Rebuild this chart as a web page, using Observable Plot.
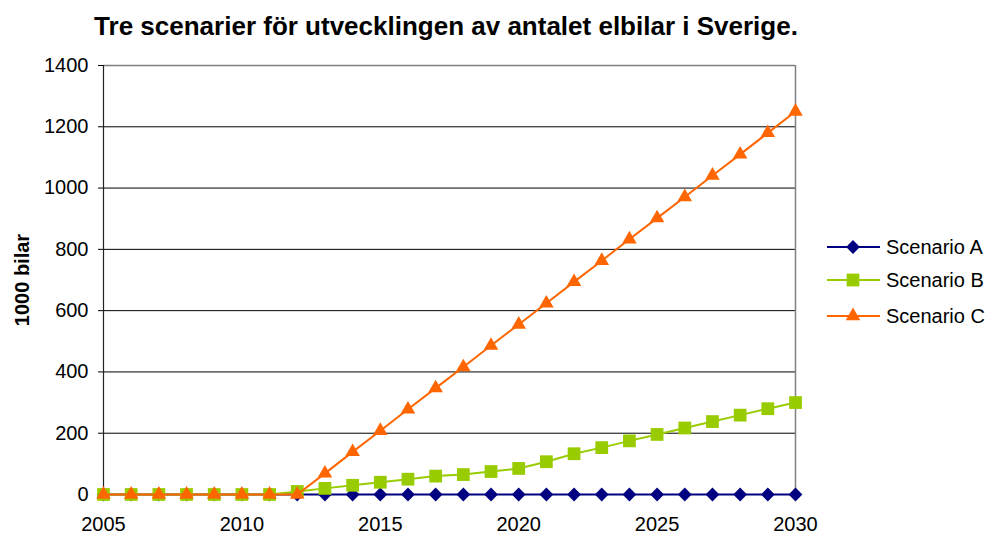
<!DOCTYPE html>
<html><head><meta charset="utf-8">
<script src="https://cdn.jsdelivr.net/npm/d3@7"></script>
<script src="https://cdn.jsdelivr.net/npm/@observablehq/plot@0.6"></script>
<style>
body{margin:0;background:#fff;font-family:"Liberation Sans",Arial,sans-serif;}
#wrap{position:relative;width:987px;height:534px;overflow:hidden;}
#title{position:absolute;left:0;top:0;width:892px;height:50px;text-align:center;font-weight:bold;font-size:26px;line-height:52px;color:#000;}
#chart{position:absolute;left:0;top:50px;}
#legend{position:absolute;left:826px;top:234px;}
.row{position:absolute;left:0;height:26px;display:flex;align-items:center;white-space:nowrap;font-size:20px;color:#000;}
.row svg{display:block;margin-right:6px;}
</style></head>
<body><div id="wrap"><div id="title"></div><div id="chart"></div><div id="legend"></div></div>
<script>
const titleText = "Tre scenarier för utvecklingen av antalet elbilar i Sverige.";
const yLabel = "1000 bilar";
const years = [2005,2006,2007,2008,2009,2010,2011,2012,2013,2014,2015,2016,2017,2018,2019,2020,2021,2022,2023,2024,2025,2026,2027,2028,2029,2030];
const scenarioA = [0,0,0,0,0,0,0,0,0,0,0,0,0,0,0,0,0,0,0,0,0,0,0,0,0,0];
const scenarioB = [0,0,0,0,0,0,0,10,20,30,40,50,60,65,75,85,107,133,153,175,196,217,238,259,280,300];
const scenarioC = [0,0,0,0,0,0,0,0,69,139,208,278,347,416,486,555,624,694,763,833,902,971,1041,1110,1180,1250];
const seriesNames = ["Scenario A","Scenario B","Scenario C"];
const seriesColors = ["#000080","#99CC00","#FF6600"];
const seriesSymbols = ["diamond2","square","triangle"];
const seriesR = [6.2,7.2,5.4];
const yTicks = [0,200,400,600,800,1000,1200,1400];
const xTicks = [2005,2010,2015,2020,2025,2030];

document.getElementById("title").textContent = titleText;

const allSeries = [scenarioA, scenarioB, scenarioC];
const data = allSeries.map((vals, i) => years.map((y, j) => ({year: y, value: vals[j], series: seriesNames[i]})));

const font = '"Liberation Sans", Arial, sans-serif';
const marks = [
  Plot.ruleY(yTicks.filter(t => t > 0 && t < 1400), {stroke: "#000", strokeWidth: 1}),
  Plot.ruleY([1400], {stroke: "#808080", strokeWidth: 1.5}),
  Plot.ruleX([2030], {stroke: "#808080", strokeWidth: 1.5}),
  Plot.axisY({ticks: yTicks, tickSize: 5, tickPadding: 10, tickFormat: d => String(d), label: null, fontSize: 20, stroke: "#000"}),
  Plot.axisY({ticks: [], tickSize: 0, label: yLabel, labelAnchor: "center", labelArrow: "none", labelOffset: 89, fontSize: 20, fontWeight: "bold"}),
  Plot.ruleX([2005], {stroke: "#222", strokeWidth: 1.2}),
  Plot.axisX({ticks: xTicks, tickSize: 0, tickPadding: 22, tickFormat: d => String(d), label: null, fontSize: 20})
];
data.forEach((d, i) => {
  marks.push(Plot.line(d, {x: "year", y: "value", stroke: seriesColors[i], strokeWidth: 2}));
  marks.push(Plot.dot(d, {x: "year", y: "value", symbol: seriesSymbols[i], fill: seriesColors[i], stroke: "none", r: seriesR[i]}));
});

const chart = Plot.plot({
  width: 987, height: 484,
  marginTop: 15, marginBottom: 40, marginLeft: 103, marginRight: 192,
  style: {fontFamily: font, fontSize: "20px", color: "#000", background: "#fff", overflow: "visible"},
  x: {domain: [2005, 2030]},
  y: {domain: [0, 1400]},
  marks
});
document.getElementById("chart").appendChild(chart);

// legend
const legend = document.getElementById("legend");
const rowTops = [0, 33, 69];
seriesNames.forEach((name, i) => {
  const row = document.createElement("div");
  row.className = "row";
  row.style.top = rowTops[i] + "px";
  const svg = d3.create("svg").attr("width", 54).attr("height", 26);
  svg.append("line").attr("x1", 1).attr("x2", 54).attr("y1", 13).attr("y2", 13).attr("stroke", seriesColors[i]).attr("stroke-width", 2);
  const sym = {diamond2: d3.symbolDiamond2, square: d3.symbolSquare, triangle: d3.symbolTriangle}[seriesSymbols[i]];
  svg.append("path").attr("transform", "translate(27,13)").attr("d", d3.symbol(sym, Math.PI * seriesR[i] * seriesR[i])()).attr("fill", seriesColors[i]);
  row.appendChild(svg.node());
  const span = document.createElement("span");
  span.textContent = name;
  row.appendChild(span);
  legend.appendChild(row);
});
</script></body></html>
